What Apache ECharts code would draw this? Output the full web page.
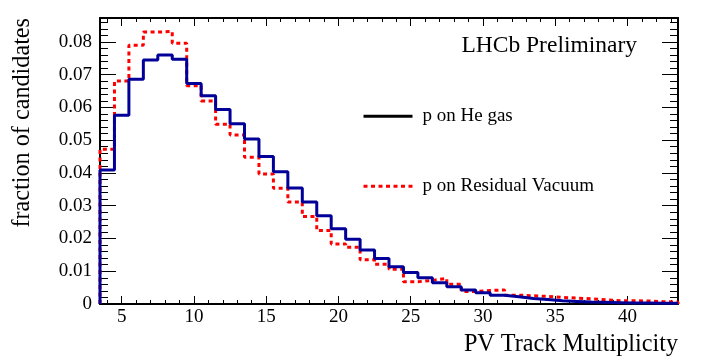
<!DOCTYPE html>
<html><head><meta charset="utf-8">
<script src="https://cdn.jsdelivr.net/npm/echarts@6/dist/echarts.min.js"></script>
<style>html,body{margin:0;padding:0;background:#fff}#c{width:714px;height:362px}</style>
</head><body><div id="c"></div>
<script>
// Bin centres (PV track multiplicity, unit-width bins)
const binCenters = [4,5,6,7,8,9,10,11,12,13,14,15,16,17,18,19,20,21,22,23,24,25,26,27,28,29,30,31,32,33,34,35,36,37,38,39,40,41,42,43];
// p on He gas (blue solid)
const heGas = [0.0409,0.0576,0.0686,0.0745,0.0760,0.0747,0.0673,0.0636,0.0594,0.0550,0.0504,0.0450,0.0404,0.0354,0.0311,0.0269,0.0230,0.0198,0.0165,0.0139,0.0114,0.0096,0.0080,0.0065,0.0053,0.0043,0.0034,0.0027,0.0022,0.0017,0.0014,0.0010,0.0008,0.0006,0.0005,0.0004,0.0003,0.0003,0.0002,0.0002];
// p on Residual Vacuum (red dotted)
const residualVacuum = [0.0472,0.0681,0.0790,0.0830,0.0832,0.0796,0.0666,0.0620,0.0549,0.0516,0.0448,0.0397,0.0353,0.0311,0.0267,0.0224,0.0183,0.0173,0.0135,0.0121,0.0106,0.0068,0.0072,0.0078,0.0060,0.0038,0.0041,0.0043,0.0027,0.0025,0.0023,0.0020,0.0018,0.0016,0.0013,0.0010,0.0010,0.0009,0.0007,0.0006];
const xTickValues = [5,10,15,20,25,30,35,40];
const xTickLabels = ['5','10','15','20','25','30','35','40'];
const yTickLabels = ['0','0.01','0.02','0.03','0.04','0.05','0.06','0.07','0.08'];
const seriesNames = ['p on He gas','p on Residual Vacuum'];

const xMin = 3.5, xMax = 43.5, yMax = 0.0873;
const FONT = 'Liberation Serif';

function histSteps(vals) {
  const pts = [[binCenters[0] - 0.5, 0]];
  vals.forEach((v, i) => pts.push([binCenters[i] - 0.5, v]));
  const last = binCenters[binCenters.length - 1] + 0.5;
  pts.push([last, vals[vals.length - 1]]);
  pts.push([last, 0]);
  return pts;
}
function xLabel(v) {
  const i = xTickValues.findIndex(t => Math.abs(t - v) < 1e-9);
  return i >= 0 ? xTickLabels[i] : '';
}
function yLabel(v) {
  const i = Math.round(v / 0.01);
  return (Math.abs(v - i * 0.01) < 1e-9 && i < yTickLabels.length) ? yTickLabels[i] : '';
}
const catNames = binCenters.map(String);
const tickLine = {color: '#000', width: 1};

const chart = echarts.init(document.getElementById('c'), null, {renderer: 'canvas'});
chart.setOption({
  animation: false,
  backgroundColor: '#fff',
  grid: {left: 100, right: 36, top: 18, bottom: 58, containLabel: false},
  xAxis: [
    {type: 'value', min: xMin, max: xMax, splitNumber: 8, position: 'bottom',
     axisLine: {show: true, onZero: false, lineStyle: {color: '#000', width: 2}},
     axisTick: {show: true, inside: true, length: 8, lineStyle: tickLine},
     axisLabel: {margin: 4, fontSize: 19, fontFamily: FONT, color: '#000', formatter: xLabel},
     splitLine: {show: false}},
    {type: 'category', data: catNames, boundaryGap: true, position: 'bottom',
     axisLine: {show: false, onZero: false},
     axisTick: {show: true, inside: true, alignWithLabel: true, interval: 0, length: 4, lineStyle: tickLine},
     axisLabel: {show: false}, splitLine: {show: false}},
    {type: 'value', min: xMin, max: xMax, splitNumber: 8, position: 'top',
     axisLine: {show: true, onZero: false, lineStyle: {color: '#000', width: 2}},
     axisTick: {show: true, inside: true, length: 8, lineStyle: tickLine},
     axisLabel: {show: false}, splitLine: {show: false}},
    {type: 'category', data: catNames, boundaryGap: true, position: 'top',
     axisLine: {show: false, onZero: false},
     axisTick: {show: true, inside: true, alignWithLabel: true, interval: 0, length: 4, lineStyle: tickLine},
     axisLabel: {show: false}, splitLine: {show: false}}
  ],
  yAxis: [
    {type: 'value', min: 0, max: yMax, interval: 0.01, position: 'left',
     axisLine: {show: true, onZero: false, lineStyle: {color: '#000', width: 2}},
     axisTick: {show: true, inside: true, length: 16, lineStyle: tickLine},
     axisLabel: {margin: 8, fontSize: 19, fontFamily: FONT, color: '#000', formatter: yLabel},
     splitLine: {show: false}},
    {type: 'value', min: 0, max: yMax, interval: 0.002, position: 'left',
     axisLine: {show: false, onZero: false},
     axisTick: {show: true, inside: true, length: 8, lineStyle: tickLine},
     axisLabel: {show: false}, splitLine: {show: false}},
    {type: 'value', min: 0, max: yMax, interval: 0.01, position: 'right',
     axisLine: {show: true, onZero: false, lineStyle: {color: '#000', width: 2}},
     axisTick: {show: true, inside: true, length: 16, lineStyle: tickLine},
     axisLabel: {show: false}, splitLine: {show: false}},
    {type: 'value', min: 0, max: yMax, interval: 0.002, position: 'right',
     axisLine: {show: false, onZero: false},
     axisTick: {show: true, inside: true, length: 8, lineStyle: tickLine},
     axisLabel: {show: false}, splitLine: {show: false}}
  ],
  legend: [
    {left: 362, top: 106.7, padding: 0, itemWidth: 49, itemHeight: 20, selectedMode: false,
     data: [seriesNames[0]], itemStyle: {opacity: 0},
     lineStyle: {color: '#000', width: 3, type: 'solid'},
     textStyle: {fontFamily: FONT, fontSize: 19, color: '#000', padding: [0, 0, 0, 5]}},
    {left: 362, top: 176.7, padding: 0, itemWidth: 49, itemHeight: 20, selectedMode: false,
     data: [seriesNames[1]], itemStyle: {opacity: 0},
     lineStyle: {color: '#ff0000', width: 3, type: [4, 3.5]},
     textStyle: {fontFamily: FONT, fontSize: 19, color: '#000', padding: [0, 0, 0, 5]}}
  ],
  graphic: [
    {type: 'text', x: 637, y: 46, style: {text: 'LHCb Preliminary', fontFamily: FONT, fontSize: 23.5, fill: '#000', align: 'right', verticalAlign: 'middle'}},
    {type: 'text', x: 678, y: 345, style: {text: 'PV Track Multiplicity', fontFamily: FONT, fontSize: 24.2, fill: '#000', align: 'right', verticalAlign: 'middle'}},
    {type: 'text', x: 23, y: 18, rotation: Math.PI / 2, style: {text: 'fraction of candidates', fontFamily: FONT, fontSize: 24.2, fill: '#000', align: 'right', verticalAlign: 'middle'}}
  ],
  series: [
    {name: seriesNames[1], type: 'line', xAxisIndex: 0, yAxisIndex: 0, step: 'end', symbol: 'none', showSymbol: false,
     lineStyle: {color: '#ff0000', width: 3, type: [4, 3.5]}, itemStyle: {color: '#ff0000'},
     data: histSteps(residualVacuum), z: 2},
    {name: seriesNames[0], type: 'line', xAxisIndex: 0, yAxisIndex: 0, step: 'end', symbol: 'none', showSymbol: false,
     lineStyle: {color: '#000099', width: 3}, itemStyle: {color: '#000099'},
     data: histSteps(heGas), z: 3}
  ]
});
</script>
</body></html>
